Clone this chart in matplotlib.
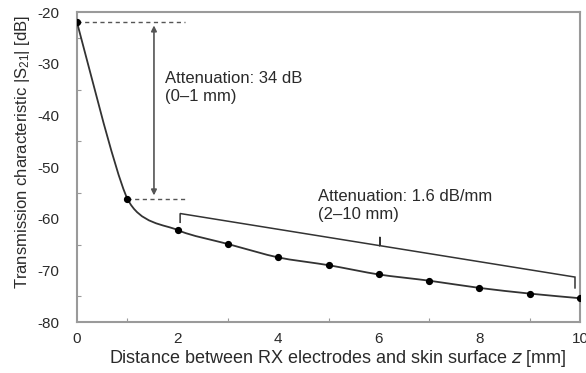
import numpy as np
import matplotlib
matplotlib.use("Agg")
import matplotlib.pyplot as plt
from matplotlib.path import Path
from matplotlib.patches import PathPatch

plt.rcParams["font.family"] = ["Liberation Sans", "DejaVu Sans"]
plt.rcParams["mathtext.default"] = "regular"
plt.rcParams["axes.unicode_minus"] = False

# distance z [mm] and |S21| [dB]
distance = [0, 1, 2, 3, 4, 5, 6, 7, 8, 9, 10]
s21 = [-22.0, -56.1, -62.2, -64.9, -67.5, -69.0, -70.8, -72.0, -73.4, -74.5, -75.4]

x_ticks = [0, 2, 4, 6, 8, 10]
y_ticks = [-80, -70, -60, -50, -40, -30, -20]

label_34 = "Attenuation: 34 dB\n(0\u20131 mm)"
label_16 = "Attenuation: 1.6 dB/mm\n(2\u201310 mm)"

spine_col = "#9a9a9a"
line_col = "#333333"
ann_col = "#555555"
text_col = "#2a2a2a"


def smooth_path(xs, ys, tension=0.75):
    """Cardinal-spline bezier through the points (like a smoothed line)."""
    pts = np.column_stack([xs, ys]).astype(float)
    n = len(pts)
    verts = [pts[0]]
    codes = [Path.MOVETO]
    for i in range(n - 1):
        p0 = pts[max(i - 1, 0)]
        p1 = pts[i]
        p2 = pts[i + 1]
        p3 = pts[min(i + 2, n - 1)]
        c1 = p1 + tension * (p2 - p0) / 6.0
        c2 = p2 - tension * (p3 - p1) / 6.0
        verts += [c1, c2, p2]
        codes += [Path.CURVE4] * 3
    return Path(verts, codes)


fig = plt.figure(figsize=(5.86, 3.73), dpi=100)
ax = fig.add_axes([0.1314, 0.1367, 0.8584, 0.8311])

ax.add_patch(PathPatch(smooth_path(distance, s21), facecolor="none",
                       edgecolor=line_col, linewidth=1.3, zorder=3))
ax.plot(distance, s21, linestyle="none", marker="o", markersize=4.2,
        color="black", zorder=4)

# 34 dB drop: dashed guides and double arrow
ax.plot([distance[0], 2.15], [s21[0], s21[0]], linestyle=(0, (3, 2.5)),
        color=ann_col, linewidth=1.0)
ax.plot([distance[1], 2.15], [s21[1], s21[1]], linestyle=(0, (3, 2.5)),
        color=ann_col, linewidth=1.0)
ax.annotate("", xy=(1.53, s21[1] + 0.6), xytext=(1.53, s21[0] - 0.6),
            arrowprops=dict(arrowstyle="<|-|>", color=ann_col, lw=1.2,
                            mutation_scale=8, shrinkA=0, shrinkB=0))
ax.text(1.75, -34.6, label_34, fontsize=12, color=text_col,
        va="center", ha="left", linespacing=1.25)

# bracket over 2-10 mm
bx0, bx1 = 2.05, 9.9
by0, by1 = -59.0, -71.3
bmid = 6.02
ymid = by0 + (by1 - by0) * (bmid - bx0) / (bx1 - bx0)
ax.plot([bx0, bx0, bmid, bmid, bmid, bx1, bx1],
        [-60.7, by0, ymid, ymid + 1.7, ymid, by1, -73.4],
        color=line_col, linewidth=1.1, solid_joinstyle="miter")
ax.text(4.79, -57.5, label_16, fontsize=12, color=text_col,
        va="center", ha="left", linespacing=1.25)

ax.set_xlim(0, 10)
ax.set_ylim(-80, -20)
ax.set_xticks(x_ticks)
ax.set_xticks(distance, minor=True)
ax.set_yticks(y_ticks)
ax.set_yticks(np.arange(-80, -19, 5), minor=True)
ax.tick_params(which="both", direction="in", color=spine_col, labelsize=11,
               labelcolor=text_col)
ax.tick_params(which="major", length=0)
ax.tick_params(axis="x", which="major", pad=7)
ax.tick_params(axis="y", which="major", pad=13)
ax.tick_params(which="minor", length=3, width=0.8)
for s in ax.spines.values():
    s.set_color(spine_col)
    s.set_linewidth(1.5)

ax.set_xlabel("Distance between RX electrodes and skin surface $\\mathit{z}$ [mm]",
              fontsize=13, color=text_col)
ax.set_ylabel("Transmission characteristic |S$_{21}$| [dB]",
              fontsize=12, color=text_col)
ax.xaxis.set_label_coords(0.519, -0.083)
ax.yaxis.set_label_coords(-0.09, 0.548)

fig.savefig("out.png", dpi=100)
